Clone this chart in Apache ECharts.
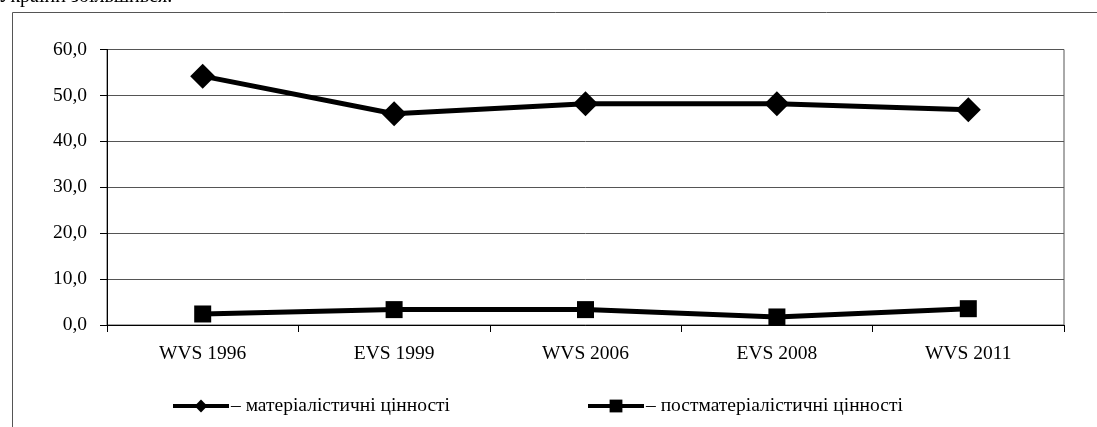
<!DOCTYPE html>
<html>
<head>
<meta charset="utf-8">
<script src="https://cdn.jsdelivr.net/npm/echarts@6/dist/echarts.min.js"></script>
<style>
html,body{margin:0;padding:0;background:#fff;}
#chart{width:1097px;height:427px;}
</style>
</head>
<body>
<div id="chart"></div>
<script>
const categories = ['WVS 1996', 'EVS 1999', 'WVS 2006', 'EVS 2008', 'WVS 2011'];
const materialValues = [54.2, 46.0, 48.2, 48.2, 46.9];
const postMaterialValues = [2.4, 3.35, 3.35, 1.75, 3.55];
const seriesNames = ['– матеріалістичні цінності', '– постматеріалістичні цінності'];
const headerText = 'України збільшився.';

const FONT = '"Liberation Serif", "Times New Roman", serif';
const FS = 19.5;
const chart = echarts.init(document.getElementById('chart'), null, {renderer: 'canvas'});

chart.setOption({
  animation: false,
  backgroundColor: '#fff',
  textStyle: {fontFamily: FONT, color: '#000'},
  graphic: [
    {
      type: 'rect', silent: true,
      shape: {x: 12.5, y: 12.5, width: 1200, height: 600},
      style: {fill: 'none', stroke: '#555', lineWidth: 1}
    },
    {
      type: 'text', silent: true, left: -2, top: -13,
      style: {text: headerText, fontSize: 20, fontFamily: FONT, fill: '#000'}
    }
  ],
  grid: {left: 107, right: 33, top: 49.5, bottom: 102, containLabel: false,
         show: true, borderColor: '#555', borderWidth: 1, backgroundColor: 'transparent'},
  legend: [
    {
      data: [seriesNames[0]], left: 171, top: 396, padding: 0,
      itemWidth: 56, itemHeight: 16, itemGap: 0,
      lineStyle: {width: 4},
      textStyle: {fontFamily: FONT, fontSize: FS, color: '#000', padding: [0, 0, 0, -3]}
    },
    {
      data: [seriesNames[1]], left: 586, top: 396, padding: 0,
      itemWidth: 56, itemHeight: 16, itemGap: 0,
      lineStyle: {width: 4},
      textStyle: {fontFamily: FONT, fontSize: FS, color: '#000', padding: [0, 0, 0, -3]}
    }
  ],
  xAxis: {
    type: 'category',
    data: categories,
    boundaryGap: true,
    axisLine: {lineStyle: {color: '#000', width: 1}},
    axisTick: {show: true, length: 7, inside: false, lineStyle: {color: '#000'}},
    axisLabel: {fontFamily: FONT, fontSize: FS, color: '#000', margin: 19}
  },
  yAxis: {
    type: 'value',
    min: 0, max: 60, interval: 10,
    axisLine: {show: true, lineStyle: {color: '#000', width: 1}},
    axisTick: {show: true, length: 7, lineStyle: {color: '#000'}},
    axisLabel: {
      fontFamily: FONT, fontSize: FS, color: '#000', margin: 20,
      formatter: v => v.toFixed(1).replace('.', ',')
    },
    splitLine: {show: true, lineStyle: {color: '#555', width: 1}}
  },
  series: [
    {
      name: seriesNames[0], type: 'line', data: materialValues,
      symbol: 'diamond', symbolSize: 25,
      lineStyle: {color: '#000', width: 5},
      itemStyle: {color: '#000'}
    },
    {
      name: seriesNames[1], type: 'line', data: postMaterialValues,
      symbol: 'rect', symbolSize: 17,
      lineStyle: {color: '#000', width: 5},
      itemStyle: {color: '#000'}
    }
  ]
});
</script>
</body>
</html>
